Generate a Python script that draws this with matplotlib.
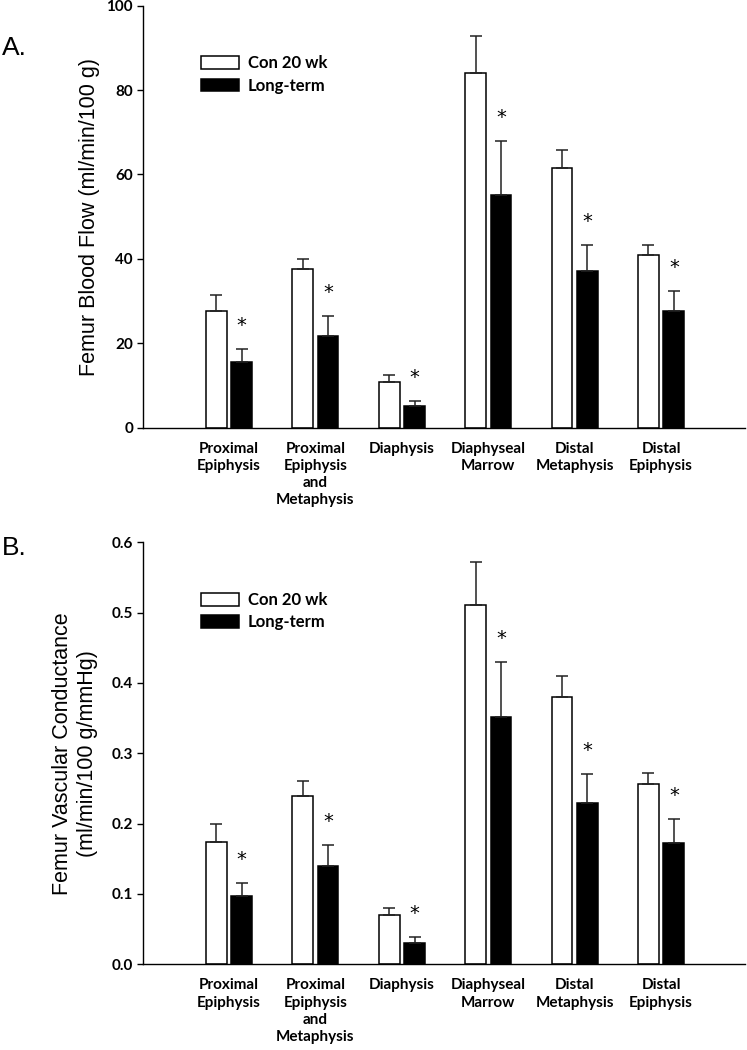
import matplotlib
matplotlib.use("Agg")
import matplotlib.pyplot as plt
import numpy as np

# === Data ===
categories = ["Proximal\nEpiphysis", "Proximal\nEpiphysis\nand\nMetaphysis", "Diaphysis",
              "Diaphyseal\nMarrow", "Distal\nMetaphysis", "Distal\nEpiphysis"]
series_names = ["Con 20 wk", "Long-term"]

# Panel A: femur blood flow (ml/min/100 g)
flow_con = [27.6, 37.5, 10.9, 84.0, 61.5, 40.8]
flow_con_se = [3.9, 2.4, 1.6, 8.9, 4.4, 2.4]
flow_lt = [15.5, 21.8, 5.2, 55.1, 37.2, 27.7]
flow_lt_se = [3.1, 4.7, 1.2, 12.8, 6.0, 4.7]

# Panel B: femur vascular conductance (ml/min/100 g/mmHg)
cond_con = [0.174, 0.240, 0.070, 0.511, 0.380, 0.256]
cond_con_se = [0.025, 0.020, 0.0105, 0.061, 0.030, 0.016]
cond_lt = [0.097, 0.140, 0.030, 0.351, 0.230, 0.173]
cond_lt_se = [0.019, 0.030, 0.009, 0.079, 0.040, 0.033]

flow_ticks = [0, 20, 40, 60, 80, 100]
cond_ticks = [0.0, 0.1, 0.2, 0.3, 0.4, 0.5, 0.6]

LABEL_FONT = "Lato"
TITLE_FONT = "Liberation Sans"


def draw_panel(ax, con, con_se, lt, lt_se, ticks, tick_fmt, ylabel, ylabel_size, labelpad):
    x = np.arange(1, len(categories) + 1)
    off = 0.147
    w = 0.24
    ekw = dict(ecolor="#222222", elinewidth=1.1, capsize=4.3, capthick=1.1)
    ax.bar(x - off, con, width=w, color="white", edgecolor="black", linewidth=1.1,
           yerr=[np.zeros(len(con)), con_se], error_kw=ekw, label=series_names[0], zorder=2)
    ax.bar(x + off, lt, width=w, color="black", edgecolor="black", linewidth=1.1,
           yerr=[np.zeros(len(lt)), lt_se], error_kw=ekw, label=series_names[1], zorder=2)

    # significance stars above the long-term error bars
    for xi, v, e in zip(x + off, lt, lt_se):
        ax.annotate("*", xy=(xi, v + e), xytext=(0, 13), textcoords="offset points",
                    ha="center", va="baseline", fontsize=14, family="DejaVu Sans")

    ax.set_xlim(0, 6.97)
    ax.set_ylim(ticks[0], ticks[-1])
    ax.set_yticks(ticks)
    ax.set_yticklabels([tick_fmt(t) for t in ticks], fontsize=11, fontweight="bold",
                       family=LABEL_FONT)
    ax.set_xticks(x)
    ax.set_xticklabels(categories, fontsize=11, fontweight="bold", family=LABEL_FONT,
                       linespacing=1.3)
    ax.tick_params(axis="x", length=0, pad=10)
    ax.tick_params(axis="y", direction="out", length=4.3, width=1.0, pad=2.5)

    for s in ["top", "right"]:
        ax.spines[s].set_visible(False)
    for s in ["left", "bottom"]:
        ax.spines[s].set_linewidth(1.0)

    ax.set_ylabel(ylabel, fontsize=ylabel_size, family=TITLE_FONT, labelpad=labelpad)

    ax.legend(loc="upper left", bbox_to_anchor=(0.097, 0.882), frameon=False,
              borderpad=0, borderaxespad=0, handlelength=2.28, handleheight=0.78,
              handletextpad=0.54, labelspacing=0.38,
              prop=dict(family=LABEL_FONT, weight="bold", size=12))


fig = plt.figure(figsize=(7.47, 10.5), dpi=100)
ax_a = fig.add_axes([0.1908, 0.5927, 0.8065, 0.4019])
ax_b = fig.add_axes([0.1908, 0.0816, 0.8065, 0.4019])

draw_panel(ax_a, flow_con, flow_con_se, flow_lt, flow_lt_se, flow_ticks,
           lambda t: f"{t:d}", "Femur Blood Flow (ml/min/100 g)", 15.5, 5)
draw_panel(ax_b, cond_con, cond_con_se, cond_lt, cond_lt_se, cond_ticks,
           lambda t: f"{t:.1f}", "Femur Vascular Conductance\n(ml/min/100 g/mmHg)", 15.5, 10)

fig.text(0.002, 1 - 48 / 1050, "A.", fontsize=19, family=TITLE_FONT, va="center", ha="left")
fig.text(0.002, 1 - 548 / 1050, "B.", fontsize=19, family=TITLE_FONT, va="center", ha="left")

fig.savefig("out.png", dpi=100)
plt.close(fig)
